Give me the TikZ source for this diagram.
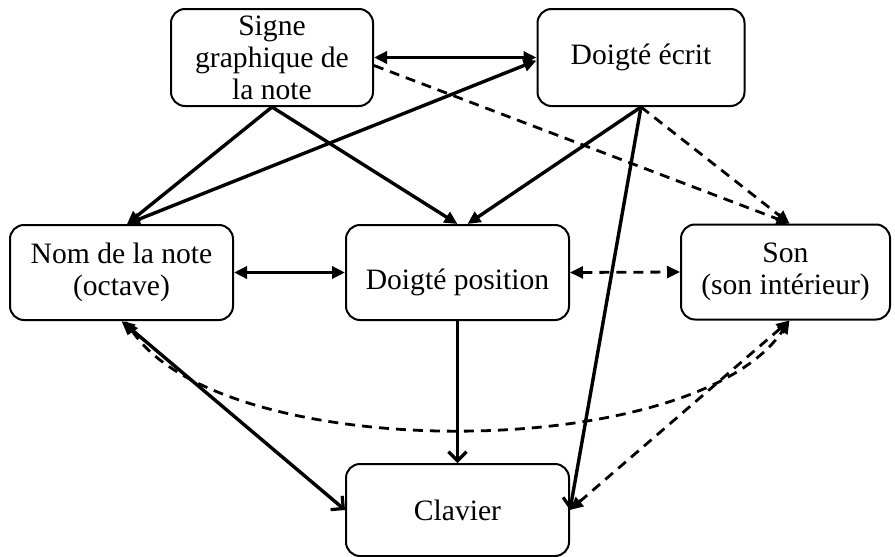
\documentclass[tikz,border=0pt]{standalone}
\usepackage{fontspec}
\setmainfont{Liberation Serif}
\usetikzlibrary{arrows.meta}

\tikzset{
  >={Triangle[length=6.5pt,width=6pt]},
  ouv/.tip={Straight Barb[length=4.5pt,width=9pt,line width=1.6pt]},
}

\begin{document}
\begin{tikzpicture}[x=0.5pt,y=-0.5pt,
  box/.style={draw,line width=1pt,rounded corners=7pt,align=center,inner sep=1.5pt,
    font=\fontsize{14.8}{16}\selectfont},
  fleche/.style={line width=1.7pt},
  pointille/.style={line width=1.4pt,dash pattern=on 5pt off 3.5pt}]

\useasboundingbox (0,0) rectangle (895,557);

\node[box,minimum width=101pt,minimum height=48.5pt] (signe) at (272,57.5) {Signe\\graphique de\\la note};
\node[box,minimum width=103.5pt,minimum height=48.5pt] (ecrit) at (641,57.5) {Doigté écrit};
\node[box,minimum width=111.5pt,minimum height=47.5pt] (nom) at (121.5,272.5) {Nom de la note\\(octave)};
\node[box,minimum width=111.5pt,minimum height=47.5pt,text height=20pt,text depth=3pt] (position) at (457.5,272.5) {Doigté position};
\node[box,minimum width=104.5pt,minimum height=47.5pt] (son) at (785.5,272) {Son\\(son intérieur)};
\node[box,minimum width=111.5pt,minimum height=46pt] (clavier) at (457.5,510) {Clavier};

\draw[fleche,<->] (signe.east) -- (ecrit.west);
\draw[fleche,->] (signe.south) -- ([xshift=2.75pt]nom.north);
\draw[fleche,->] (signe.south) -- (position.north);
\draw[fleche,<->] ([xshift=2.75pt]nom.north) -- ([yshift=-1.5pt]ecrit.west);
\draw[fleche,->] (ecrit.south) -- ([xshift=5pt]position.north);
\draw[fleche,-ouv] (ecrit.south) -- (clavier.east);
\draw[pointille,->] (ecrit.south) -- ([xshift=2pt]son.north);
\draw[pointille,->] ([yshift=-4pt]signe.east) -- ([xshift=2pt]son.north);

\draw[fleche,<->] (nom.east) -- (position.west);
\draw[pointille,<->] (position.east) -- (son.west);

\draw[fleche,-ouv] (position.south) -- (clavier.north);
\draw[fleche,<-ouv] (nom.south) -- (clavier.west);
\draw[pointille,<->] ([xshift=2pt]nom.south) to[out=-56,in=-124,looseness=0.67] ([xshift=2pt]son.south);
\draw[pointille,<->] ([xshift=2pt]son.south) -- (clavier.east);

\end{tikzpicture}
\end{document}
